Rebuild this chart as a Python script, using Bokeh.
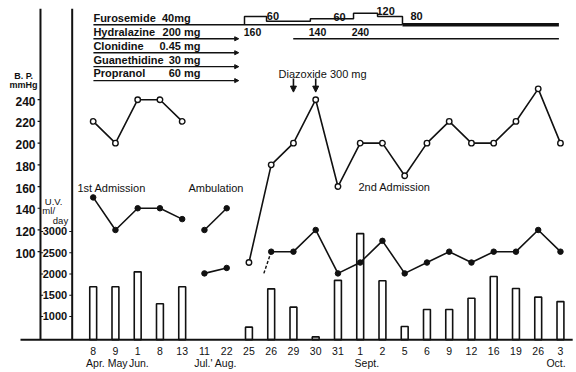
from bokeh.plotting import figure
from bokeh.models import Range1d, Arrow, NormalHead
from bokeh.core.properties import value
from bokeh.embed import file_html
from bokeh.resources import INLINE

# ---------------- data ----------------
DAYS = ["8", "9", "1", "8", "13", "11", "22", "25", "26", "29", "30", "31",
        "1", "2", "5", "6", "9", "12", "16", "19", "26", "3"]
MONTHS = ["Apr.", "May", "Jun.", "Jul.' Aug.", "Sept.", "Oct."]
MONTH_AT = [0.1, 1.1, 2.05, 5.5, 12.3, 20.8]

# urine volume (ml/day); None = not measured
UV = [1700, 1700, 2050, 1300, 1700, None, None, 750, 1650, 1220, 520, 1850,
      2950, 1840, 765, 1165, 1165, 1430, 1940, 1660, 1455, 1350]
UV_FLOOR = 455

# blood pressure (mmHg)
SYS1_IDX = [0, 1, 2, 3, 4]
SYS1 = [220, 200, 240, 240, 220]
DIA1 = [150, 120, 140, 140, 130]
AMB_IDX = [5, 6]
AMB_SYS = [120, 140]
AMB_DIA = [80, 85]
SYS2_IDX = list(range(7, 22))
SYS2 = [90, 180, 200, 240, 160, 200, 200, 170, 200, 220, 200, 200, 220, 250, 200]
DIA2_IDX = list(range(8, 22))
DIA2 = [100, 100, 120, 80, 90, 110, 80, 90, 100, 90, 100, 100, 120, 100]
DIA2_LEAD_X = [7.67, 8]
DIA2_LEAD = [80, 100]

BP_TICKS = [100, 120, 140, 160, 180, 200, 220, 240]
UV_TICKS = [1000, 1500, 2000, 2500, 3000]

DRUGS = ["Furosemide", "Hydralazine", "Clonidine", "Guanethidine", "Propranol"]
DOSES = ["40mg", "200 mg", "0.45 mg", "30 mg", "60 mg"]
DRUG_STOP = [20.93, 6.54, 6.54, 6.54, 6.54]
HYD_RESUME = [8.99, 20.93]
HYD_DOSES = ["160", "140", "240"]
HYD_DOSE_AT = [7.16, 10.08, 12.01]
FURO_STEP_X = [6.80, 7.79, 9.76, 11.70, 12.78, 13.90]
FURO_STEP_LEVEL = [-0.6, -0.26, -0.43, -0.83, -0.6, 0.0]
FURO_DOSES = ["60", "60", "120", "80"]
FURO_DOSE_AT = [8.08, 11.07, 13.14, 14.53]
FURO_DOSE_LVL = [-0.63, -0.57, -0.97, -0.61]
DIAZOXIDE_DAYS = [9, 10]

# ---------------- figure ----------------
FONT = value("Liberation Sans")
INK = "#111111"

p = figure(width=576, height=372, x_range=Range1d(-4.166, 21.721),
           y_range=Range1d(-11.3, 331.4), x_axis_type=None, y_axis_type=None,
           output_backend="svg", toolbar_location=None, min_border=0,
           background_fill_color="white", border_fill_color="white")
p.outline_line_color = None
p.extra_y_ranges = {"uv": Range1d(-317.6, 8435), "drug": Range1d(24.92, -1.742)}

BP_AX = -2.369
UV_AX = -0.944
BASE_LEFT = -3.267
RIGHT = 21.55

# bars
bx = [i for i, v in enumerate(UV) if v is not None]
bt = [v for v in UV if v is not None]
p.vbar(x=bx, top=bt, bottom=UV_FLOOR, width=0.31, y_range_name="uv",
       fill_color="white", line_color=INK, line_width=1.6)

# axes lines
p.segment(x0=[BASE_LEFT], y0=[UV_FLOOR], x1=[RIGHT], y1=[UV_FLOOR],
          y_range_name="uv", line_color=INK, line_width=2)
p.segment(x0=[BP_AX, UV_AX], y0=[UV_FLOOR] * 2, x1=[BP_AX, UV_AX], y1=[8240] * 2,
          y_range_name="uv", line_color=INK, line_width=2)

# ticks
p.segment(x0=[BP_AX - 0.13] * len(BP_TICKS), y0=BP_TICKS, x1=[BP_AX] * len(BP_TICKS),
          y1=BP_TICKS, line_color=INK, line_width=1.2)
p.segment(x0=[UV_AX - 0.13] * len(UV_TICKS), y0=UV_TICKS, x1=[UV_AX] * len(UV_TICKS),
          y1=UV_TICKS, y_range_name="uv", line_color=INK, line_width=1.2)
p.segment(x0=[BP_AX] * len(UV_TICKS), y0=UV_TICKS, x1=[BP_AX + 0.12] * len(UV_TICKS),
          y1=UV_TICKS, y_range_name="uv", line_color=INK, line_width=1.2)

# tick labels
p.text(x=[BP_AX] * len(BP_TICKS), y=BP_TICKS, text=[str(t) for t in BP_TICKS],
       x_offset=-5, y_offset=1.5, text_align="right", text_baseline="middle",
       text_font=FONT, text_font_size="12px", text_font_style="bold", text_color=INK)
p.text(x=[UV_AX] * len(UV_TICKS), y=UV_TICKS, text=[str(t) for t in UV_TICKS],
       x_offset=-5, text_align="right", text_baseline="middle", y_range_name="uv",
       text_font=FONT, text_font_size="11px", text_font_style="bold", text_color=INK)
p.text(x=list(range(len(DAYS))), y=[8.1] * len(DAYS), text=DAYS,
       text_align="center", text_baseline="middle", text_font=FONT,
       text_font_size="10.5px", text_color=INK)
p.text(x=MONTH_AT, y=[-3.0] * len(MONTHS), text=MONTHS,
       text_align="center", text_baseline="middle", text_font=FONT,
       text_font_size="10.5px", text_color=INK)

# axis titles
p.text(x=[-3.13, -3.13], y=[261.4, 253.1], text=["B. P.", "mmHg"],
       text_align="center", text_baseline="middle", text_font=FONT,
       text_font_size="9px", text_font_style="bold", text_color=INK)
p.text(x=[-1.78, -2.0, -1.47], y=[146.2, 138.0, 128.7], text=["U.V.", "ml/", "day"],
       text_align="center", text_baseline="middle", text_font=FONT,
       text_font_size="9.5px", text_color=INK)

# BP series
def series(xs, ys, dash="solid"):
    p.line(xs, ys, line_color=INK, line_width=1.6, line_dash=dash)

series(SYS1_IDX, SYS1)
series(SYS1_IDX, DIA1)
series(AMB_IDX, AMB_SYS)
series(AMB_IDX, AMB_DIA)
series(SYS2_IDX, SYS2)
series(DIA2_IDX, DIA2)
p.line(DIA2_LEAD_X, DIA2_LEAD, line_color=INK, line_width=1.4, line_dash="3 2")

p.scatter(SYS1_IDX + SYS2_IDX, SYS1 + SYS2, size=5.5, marker="circle",
          fill_color="white", line_color=INK, line_width=1.4)
p.scatter(SYS1_IDX + AMB_IDX + AMB_IDX + DIA2_IDX, DIA1 + AMB_SYS + AMB_DIA + DIA2,
          size=5.5, marker="circle", fill_color=INK, line_color=INK)

# phase annotations
p.text(x=[-0.71, 4.28, 11.92], y=[158.5, 158.5, 159.2],
       text=["1st Admission", "Ambulation", "2nd Admission"],
       text_align="left", text_baseline="middle", text_font=FONT,
       text_font_size="11px", text_color=INK)

# diazoxide
p.text(x=[8.33], y=[263.5], text=["Diazoxide 300 mg"], text_align="left",
       text_baseline="middle", text_font=FONT, text_font_size="11px", text_color=INK)
for d in DIAZOXIDE_DAYS:
    p.add_layout(Arrow(end=NormalHead(size=6, fill_color=INK, line_color=INK),
                       x_start=d, y_start=259.5, x_end=d, y_end=247.0,
                       line_color=INK, line_width=1.6))

# drug panel
rows = list(range(len(DRUGS)))
p.text(x=[0.01] * len(DRUGS), y=[r - 0.08 for r in rows], text=DRUGS,
       text_align="left", text_baseline="bottom", text_font=FONT,
       text_font_size="11px", text_font_style="bold", text_color=INK,
       y_range_name="drug")
p.text(x=[4.38, 4.82, 4.82, 4.82, 4.82], y=[r - 0.08 for r in rows], text=DOSES,
       text_align="right", text_baseline="bottom", text_font=FONT,
       text_font_size="11px", text_font_style="bold", text_color=INK,
       y_range_name="drug")
for r in rows:
    if r == 0:
        p.segment(x0=[0.01], y0=[0], x1=[FURO_STEP_X[-1]], y1=[0], y_range_name="drug",
                  line_color=INK, line_width=1.6)
        p.segment(x0=[FURO_STEP_X[-1]], y0=[0], x1=[DRUG_STOP[0]], y1=[0],
                  y_range_name="drug", line_color=INK, line_width=3.6)
    else:
        p.add_layout(Arrow(end=NormalHead(size=4, fill_color=INK, line_color=INK),
                           x_start=0.01, y_start=r, x_end=DRUG_STOP[r], y_end=r,
                           y_range_name="drug", line_color=INK, line_width=1.4))
p.segment(x0=[HYD_RESUME[0]], y0=[1], x1=[HYD_RESUME[1]], y1=[1], y_range_name="drug",
          line_color=INK, line_width=1.4)

fx, fy = [FURO_STEP_X[0]], [0.0]
prev = 0.0
for x, lvl in zip(FURO_STEP_X, FURO_STEP_LEVEL):
    fx += [x, x]
    fy += [prev, lvl]
    prev = lvl
p.line(fx, fy, y_range_name="drug", line_color=INK, line_width=1.5)

p.text(x=FURO_DOSE_AT, y=FURO_DOSE_LVL, text=FURO_DOSES, text_align="center",
       text_baseline="middle", text_font=FONT, text_font_size="11px",
       text_font_style="bold", text_color=INK, y_range_name="drug")
p.text(x=HYD_DOSE_AT, y=[0.48] * 3, text=HYD_DOSES, text_align="center",
       text_baseline="middle", text_font=FONT, text_font_size="10.5px",
       text_font_style="bold", text_color=INK, y_range_name="drug")

open("out.html", "w").write(file_html(p, INLINE))
